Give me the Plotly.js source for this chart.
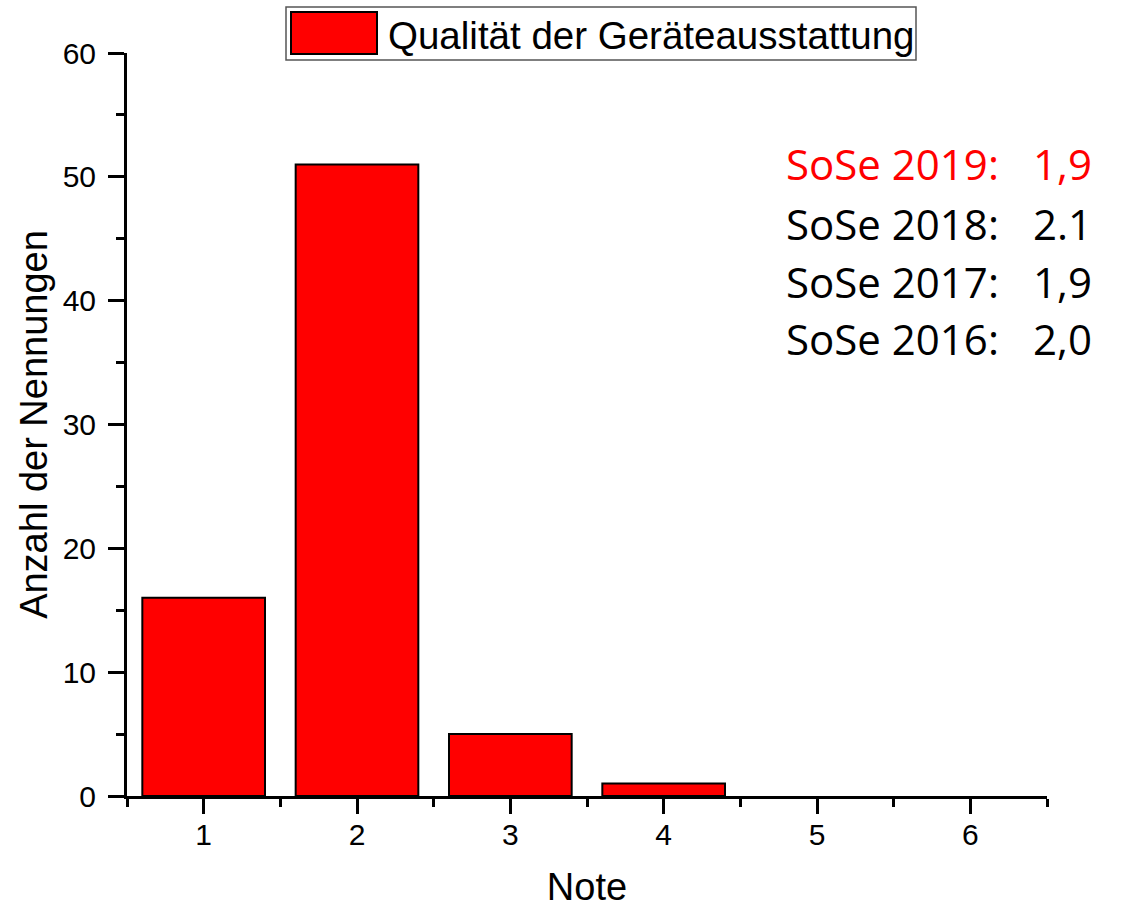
<!DOCTYPE html>
<html>
<head>
<meta charset="utf-8">
<script src="https://cdn.plot.ly/plotly-3.0.1.min.js"></script>
<style>html,body{margin:0;padding:0;background:#fff;}#chart{width:1124px;height:909px;}</style>
</head>
<body>
<div id="chart"></div>
<script>
const notes = [1, 2, 3, 4, 5, 6];
const counts = [16, 51, 5, 1, 0, 0];
const seriesName = "Qualität der Geräteausstattung";
const semesters = ["SoSe 2019:", "SoSe 2018:", "SoSe 2017:", "SoSe 2016:"];
const averages = ["1,9", "2.1", "1,9", "2,0"];
const semesterColors = ["#ff0000", "#000000", "#000000", "#000000"];

const W = 1124, H = 909;
const M = {l: 127, r: 77, t: 53, b: 113};
const pw = W - M.l - M.r, ph = H - M.t - M.b;
const px = x => (x - M.l) / pw;
const py = y => (H - M.b - y) / ph;

const trace = {
  type: 'bar', x: notes, y: counts, name: seriesName, width: 0.8,
  marker: {color: '#ff0000', line: {color: '#000000', width: counts.map(v => v > 0 ? 2 : 0)}},
  showlegend: false
};

const annotations = [];
const rowY = [163, 224, 281, 338];
semesters.forEach((s, i) => {
  annotations.push({xref: 'paper', yref: 'paper', x: px(784), y: py(rowY[i]), xanchor: 'left', yanchor: 'middle',
    text: s, showarrow: false, font: {family: 'Open Sans', size: 42, color: semesterColors[i]}});
  annotations.push({xref: 'paper', yref: 'paper', x: px(1094), y: py(rowY[i]), xanchor: 'right', yanchor: 'middle',
    text: averages[i], showarrow: false, font: {family: 'Open Sans', size: 42, color: semesterColors[i]}});
});
annotations.push({xref: 'paper', yref: 'paper', x: px(386), y: py(36), xanchor: 'left', yanchor: 'middle',
  text: seriesName, showarrow: false, font: {family: 'Liberation Sans, Arial', size: 38.5, color: '#000'}});

const shapes = [
  {type: 'rect', xref: 'paper', yref: 'paper', x0: px(286), x1: px(916), y0: py(60), y1: py(7),
    line: {color: '#555', width: 1.5}, fillcolor: '#fff', layer: 'above'},
  {type: 'rect', xref: 'paper', yref: 'paper', x0: px(291), x1: px(377), y0: py(54), y1: py(12),
    line: {color: '#000', width: 2}, fillcolor: '#ff0000', layer: 'above'}
];

const layout = {
  width: W, height: H,
  margin: M,
  paper_bgcolor: '#fff', plot_bgcolor: '#fff',
  font: {family: 'Liberation Sans, Arial', color: '#000'},
  showlegend: false,
  xaxis: {
    range: [0.5, 6.5], tickmode: 'linear', tick0: 1, dtick: 1,
    showgrid: false, zeroline: false, showline: true, linecolor: '#000', linewidth: 3,
    ticks: 'outside', ticklen: 15, tickwidth: 3, tickcolor: '#000',
    tickfont: {size: 30, family: 'Liberation Sans, Arial'},
    ticklabelstandoff: -5,
    minor: {tick0: 0.5, dtick: 1, ticks: 'outside', ticklen: 8, tickwidth: 3, tickcolor: '#000', showgrid: false},
    title: {text: 'Note', font: {size: 38, family: 'Liberation Sans, Arial'}, standoff: 24},
    fixedrange: true
  },
  yaxis: {
    range: [0, 60], tickmode: 'linear', tick0: 0, dtick: 10,
    showgrid: false, zeroline: false, showline: true, linecolor: '#000', linewidth: 3,
    ticks: 'outside', ticklen: 16, tickwidth: 3, tickcolor: '#000',
    tickfont: {size: 30, family: 'Liberation Sans, Arial'},
    ticklabelstandoff: 6,
    minor: {tick0: 0, dtick: 5, ticks: 'outside', ticklen: 8, tickwidth: 3, tickcolor: '#000', showgrid: false},
    title: {text: 'Anzahl der Nennungen', font: {size: 38, family: 'Liberation Sans, Arial'}, standoff: 4},
    fixedrange: true
  },
  annotations: annotations,
  shapes: shapes
};

Plotly.newPlot('chart', [trace], layout, {displayModeBar: false, staticPlot: true});
</script>
</body>
</html>
